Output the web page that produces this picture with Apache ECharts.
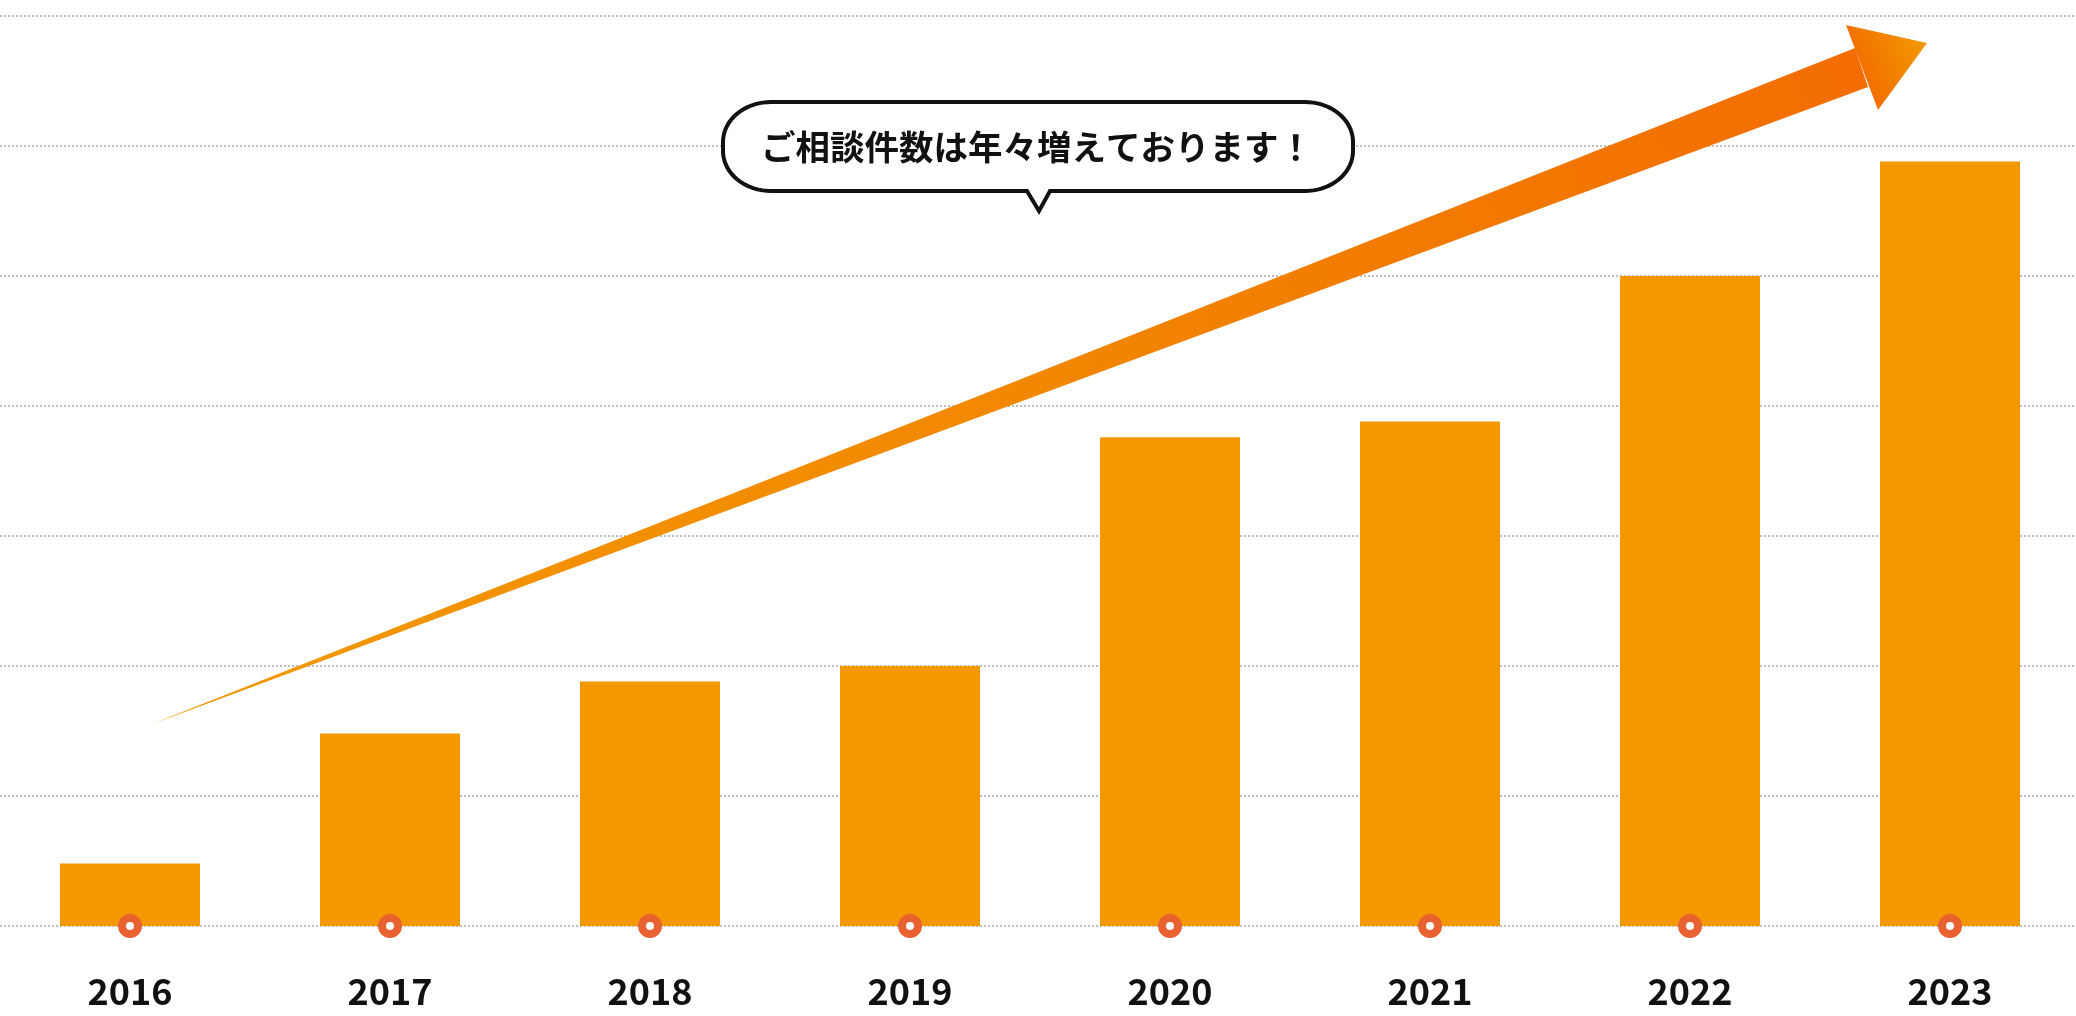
<!DOCTYPE html>
<html>
<head>
<meta charset="utf-8">
<script src="https://cdn.jsdelivr.net/npm/echarts@6/dist/echarts.min.js"></script>
<style>
html,body{margin:0;padding:0;background:#ffffff;}
#chart{width:2076px;height:1016px;}
</style>
</head>
<body>
<div id="chart"></div>
<script>
// ---- data ----
const categories = ['2016', '2017', '2018', '2019', '2020', '2021', '2022', '2023'];
const consultations = [48, 148, 188, 200, 376, 388, 500, 588];
const baselineMarkers = [0, 0, 0, 0, 0, 0, 0, 0];
const yMin = 0;
const yMax = 700;
const yInterval = 100;
const calloutText = 'ご相談件数は年々増えております！';

// ---- decoration helpers ----
const FONT = '"Noto Sans CJK JP", "Noto Sans", sans-serif';

function bubblePoints() {
  const x0 = 723, x1 = 1353, y0 = 102, y1 = 191;
  const rx = 48, ry = 40;
  const pts = [];
  function arc(cx, cy, a0, a1) {
    const n = 18;
    for (let i = 0; i <= n; i++) {
      const a = a0 + (a1 - a0) * i / n;
      pts.push([cx + rx * Math.cos(a), cy + ry * Math.sin(a)]);
    }
  }
  arc(x0 + rx, y0 + ry, Math.PI, Math.PI * 1.5);
  arc(x1 - rx, y0 + ry, Math.PI * 1.5, Math.PI * 2);
  arc(x1 - rx, y1 - ry, 0, Math.PI * 0.5);
  pts.push([1050, y1]);
  pts.push([1039, 211]);
  pts.push([1027, y1]);
  arc(x0 + rx, y1 - ry, Math.PI * 0.5, Math.PI);
  return pts;
}

const chart = echarts.init(document.getElementById('chart'), null, {renderer: 'canvas'});

const option = {
  backgroundColor: '#ffffff',
  animation: false,
  grid: {left: 0, top: 16, width: 2080, height: 910, containLabel: false, outerBoundsMode: 'none'},
  xAxis: {
    type: 'category',
    data: categories,
    boundaryGap: true,
    axisLine: {show: false},
    axisTick: {show: false},
    axisLabel: {
      show: true,
      margin: 47,
      fontSize: 36,
      fontWeight: 'bold',
      color: '#111111',
      fontFamily: FONT
    },
    splitLine: {show: false}
  },
  yAxis: {
    type: 'value',
    min: yMin,
    max: yMax,
    interval: yInterval,
    axisLine: {show: false},
    axisTick: {show: false},
    axisLabel: {show: false},
    splitLine: {
      show: true,
      lineStyle: {color: '#bdbdbd', width: 2, type: [2, 2]}
    }
  },
  series: [
    {
      name: 'ご相談件数',
      type: 'bar',
      data: consultations,
      barWidth: 140,
      itemStyle: {color: '#F39800'},
      z: 2
    },
    {
      name: 'marker',
      type: 'scatter',
      data: baselineMarkers,
      symbol: 'circle',
      symbolSize: 16,
      itemStyle: {color: '#ffffff', borderColor: '#EA6130', borderWidth: 8, opacity: 1},
      z: 4,
      silent: true
    }
  ],
  graphic: [
    {
      type: 'polygon',
      z: 10,
      shape: {points: [[147, 726], [1855, 48], [1868, 87]]},
      style: {
        fill: {
          type: 'linear', global: true,
          x: 147, y: 726, x2: 1868, y2: 60,
          colorStops: [
            {offset: 0, color: 'rgba(243,152,0,0.35)'},
            {offset: 0.015, color: '#F39800'},
            {offset: 0.5, color: '#F28800'},
            {offset: 1, color: '#F36C00'}
          ]
        }
      }
    },
    {
      type: 'polygon',
      z: 10,
      shape: {points: [[1846, 25], [1927, 43], [1878, 110]]},
      style: {
        fill: {
          type: 'linear', global: true,
          x: 1855, y: 75, x2: 1927, y2: 43,
          colorStops: [
            {offset: 0, color: '#F26B00'},
            {offset: 1, color: '#F39A00'}
          ]
        }
      }
    },
    {
      type: 'polygon',
      z: 11,
      shape: {points: bubblePoints()},
      style: {fill: '#ffffff', stroke: '#111111', lineWidth: 4, lineJoin: 'miter'}
    },
    {
      type: 'text',
      z: 12,
      x: 1037,
      y: 147,
      style: {
        text: calloutText,
        font: 'bold 34.5px ' + FONT,
        fill: '#111111',
        align: 'center',
        verticalAlign: 'middle'
      }
    }
  ]
};

chart.setOption(option);
</script>
</body>
</html>
